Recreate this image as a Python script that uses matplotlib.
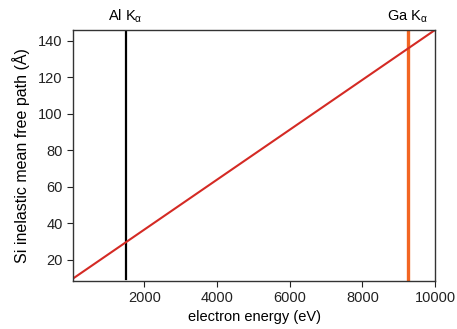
import matplotlib
matplotlib.use("Agg")
import matplotlib.pyplot as plt

plt.rcParams['font.family'] = ['Liberation Sans', 'DejaVu Sans']

# electron energy (eV) vs Si inelastic mean free path (A)
energy = [50, 10000]
imfp = [10, 146]

# x-ray lines
line_names = ['Al K$_\\mathregular{\\alpha}$', 'Ga K$_\\mathregular{\\alpha}$']
line_energy = [1487, 9252]
line_colors = ['black', '#f26522']
line_widths = [1.6, 2.4]
line_span = (9.5, 145)

fig = plt.figure(figsize=(4.57, 3.29), dpi=100)
ax = fig.add_axes([0.16, 0.146, 0.792, 0.763])

for name, e, c, w in zip(line_names, line_energy, line_colors, line_widths):
    ax.plot([e, e], line_span, color=c, lw=w)
    ax.text(e, 1.02, name, transform=ax.get_xaxis_transform(),
            ha='center', va='bottom', fontsize=10.5)

ax.plot(energy, imfp, color='#d42a24', lw=1.5)

ax.set_xlim(40, 10000)
ax.set_ylim(8.5, 146)
ax.set_xticks([2000, 4000, 6000, 8000, 10000])
ax.set_yticks([20, 40, 60, 80, 100, 120, 140])
ax.tick_params(direction='out', length=4, labelsize=10.5, colors='#222222')
for s in ax.spines.values():
    s.set_color('#333333')
    s.set_linewidth(1.0)

ax.set_xlabel('electron energy (eV)', fontsize=10.5, labelpad=3)
ax.set_ylabel('Si inelastic mean free path (Å)', fontsize=11.5, labelpad=6)

fig.savefig('out.png', dpi=100)
